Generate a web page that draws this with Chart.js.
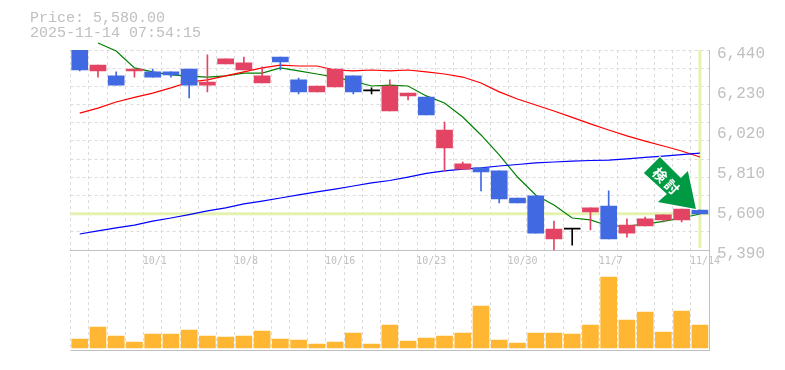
<!DOCTYPE html>
<html>
<head>
<meta charset="utf-8">
<script src="https://cdn.jsdelivr.net/npm/chart.js@4"></script>
<style>
  html, body { margin: 0; padding: 0; background: #fff; }
  canvas { display: block; }
</style>
</head>
<body>
<canvas id="chart" width="785" height="370"></canvas>
<script>
const LAST_PRICE = 5580
const HEADER = ['Price: 5,580.00', '2025-11-14 07:54:15']
const ARROW_TEXT = ['検', '討']

const dates = ['9/25','9/26','9/29','9/30','10/1','10/2','10/3','10/6','10/7','10/8',
  '10/9','10/10','10/14','10/15','10/16','10/17','10/20','10/21','10/22','10/23',
  '10/24','10/27','10/28','10/29','10/30','10/31','11/4','11/5','11/6','11/7',
  '11/10','11/11','11/12','11/13','11/14']
const dateTicks = ['10/1','10/8','10/16','10/23','10/30','11/7','11/14']
const priceTicks = [6440, 6230, 6020, 5810, 5600, 5390]

const opens = [6440,6330,6304,6330,6325,6325,6340,6256,6367,6335,
  6267,6403,6283,6220,6246,6304,6225,6120,6199,6193,
  5926,5815,5821,5805,5663,5674,5448,5500,5590,5621,
  5479,5516,5548,5548,5600]
const closes = [6335,6361,6256,6340,6298,6309,6256,6272,6393,6372,
  6304,6377,6220,6251,6340,6220,6225,6251,6214,6099,
  6020,5842,5800,5658,5637,5479,5500,5500,5611,5448,
  5521,5553,5574,5605,5580]
const highs = [6440,6361,6325,6340,6340,6325,6340,6414,6393,6403,
  6351,6403,6293,6251,6340,6304,6241,6283,6214,6193,
  6062,5852,5821,5805,5663,5674,5542,5500,5611,5700,
  5553,5563,5574,5605,5600]
const lows = [6330,6298,6256,6298,6298,6298,6188,6220,6367,6335,
  6267,6335,6209,6220,6246,6209,6209,6120,6178,6099,
  5805,5815,5700,5637,5637,5479,5390,5416,5495,5448,
  5458,5516,5537,5537,5580]

const maShort = [null,6477,6435,6346,6325,6309,6303,6298,6304,6319,
  6319,6346,6330,6314,6298,6277,6251,6256,6251,6199,
  6162,6088,5994,5889,5773,5679,5626,5558,5548,5516,
  5516,5526,5540,5558,5579]
const maMid = [6109,6135,6167,6191,6214,6241,6272,6283,6304,6325,
  6346,6361,6356,6356,6335,6330,6335,6330,6335,6325,
  6314,6298,6267,6220,6183,6151,6120,6086,6052,6020,
  5989,5962,5936,5910,5878]
const maLong = [5474,5490,5506,5521,5542,5558,5576,5595,5611,5632,
  5647,5663,5679,5695,5710,5726,5742,5755,5773,5792,
  5805,5815,5821,5831,5839,5847,5852,5857,5860,5862,
  5868,5876,5883,5891,5899]

const volumes = [9,21,12,6,14,14,18,12,11,12,
  17,9,8,4,6,15,4,23,7,10,
  12,15,42,8,5,15,15,14,23,71,
  28,36,16,37,23]

const GRAY = '#c0c0c0'
const GRID = '#dcdcdc'
const UP = '#e34463'
const DOWN = '#4169e1'
const FLAT = '#000000'

// price panel is the upper 200px of a 300px plot, volume sits under it
const PRICE_MAX = 6440
const PRICE_MIN = 5390
const PRICE_BOTTOM = PRICE_MIN - (PRICE_MAX - PRICE_MIN) / 2
const GRID_LINES = 11

const candleColors = opens.map((o, i) => closes[i] > o ? UP : closes[i] < o ? DOWN : FLAT)

// last price lines go under everything else
const priceLines = {
  id: 'priceLines',
  beforeDatasetsDraw(chart) {
    const { ctx, chartArea, scales } = chart
    const y = scales.y.getPixelForValue(LAST_PRICE)
    const x = scales.x.getPixelForValue(dates.length - 1)
    ctx.save()
    ctx.fillStyle = '#e4f2b0'
    ctx.fillRect(chartArea.left, y - 1.5, chartArea.right - chartArea.left, 3)
    ctx.fillRect(x - 1.5, chartArea.top, 3, scales.y.getPixelForValue(PRICE_MIN) - 2 - chartArea.top)
    ctx.restore()
  }
}

const arrowAndHeader = {
  id: 'arrowAndHeader',
  afterDraw(chart) {
    const { ctx, scales } = chart
    ctx.save()

    ctx.fillStyle = GRAY
    ctx.font = '15px "Liberation Mono"'
    ctx.textBaseline = 'middle'
    ctx.fillText(HEADER[0], 30, 18)
    ctx.fillText(HEADER[1], 30, 33)

    // arrow is hung off the last candle
    const tipX = scales.x.getPixelForValue(dates.length - 1) - 4
    const tipY = scales.y.getPixelForValue(opens[opens.length - 1]) - 1
    const shape = [[-36,-52],[-52,-36],[-29,-15],[-38,-7],[0,0],[-8,-38],[-15,-31]]
    ctx.beginPath()
    shape.forEach((p, i) => i ? ctx.lineTo(tipX + p[0], tipY + p[1]) : ctx.moveTo(tipX + p[0], tipY + p[1]))
    ctx.closePath()
    ctx.lineWidth = 2
    ctx.strokeStyle = '#fff'
    ctx.stroke()
    ctx.fillStyle = '#009944'
    ctx.fill()

    ctx.fillStyle = '#fff'
    ctx.font = 'bold 14px "Noto Sans CJK JP"'
    ctx.textAlign = 'center'
    ctx.textBaseline = 'middle'
    ctx.translate(tipX - 30, tipY - 28)
    ctx.rotate(Math.PI / 4)
    ctx.fillText(ARROW_TEXT[0], -8.5, 0)
    ctx.fillText(ARROW_TEXT[1], 8.5, 0)
    ctx.restore()
  }
}

new Chart(document.getElementById('chart'), {
  data: {
    labels: dates,
    datasets: [
      {
        type: 'bar', yAxisID: 'y', order: 1, grouped: false, barThickness: 16, minBarLength: 1,
        data: opens.map((o, i) => [o, closes[i]]),
        backgroundColor: candleColors
      },
      {
        type: 'bar', yAxisID: 'y', order: 2, grouped: false, barThickness: 1,
        data: lows.map((l, i) => [l, highs[i]]),
        backgroundColor: candleColors
      },
      { type: 'line', yAxisID: 'y', order: 3, data: maLong, borderColor: '#0000ff', borderWidth: 1.2, pointRadius: 0, tension: 0, clip: false },
      { type: 'line', yAxisID: 'y', order: 4, data: maMid, borderColor: '#ff0000', borderWidth: 1.2, pointRadius: 0, tension: 0, clip: false },
      { type: 'line', yAxisID: 'y', order: 5, data: maShort, borderColor: '#008000', borderWidth: 1.2, pointRadius: 0, tension: 0, clip: false },
      {
        type: 'bar', yAxisID: 'vol', order: 6, grouped: false, barThickness: 16,
        data: volumes, backgroundColor: '#ffb733'
      }
    ]
  },
  options: {
    responsive: false,
    animation: false,
    layout: { padding: { left: 70.6, top: 50, bottom: 20, right: 0 } },
    plugins: { legend: { display: false }, tooltip: { enabled: false } },
    scales: {
      x: {
        type: 'category',
        position: { y: PRICE_MIN },
        offset: true,
        grid: { color: GRID, offset: true, drawTicks: false },
        border: { display: true, color: GRAY, dash: [3, 3] },
        ticks: {
          autoSkip: false,
          maxRotation: 0,
          align: 'start',
          labelOffset: -10,
          padding: 5,
          color: GRAY,
          font: { family: 'DejaVu Sans Mono', size: 10 },
          callback(value) {
            const label = this.getLabelForValue(value)
            return dateTicks.includes(label) ? label : ''
          }
        }
      },
      y: {
        position: 'right',
        min: PRICE_BOTTOM,
        max: PRICE_MAX,
        afterBuildTicks: (scale) => { scale.ticks = priceTicks.map(value => ({ value })) },
        afterFit: (scale) => { scale.width = 76 },
        grid: { display: false, drawTicks: false },
        border: { display: true, color: GRAY },
        ticks: {
          padding: 8,
          labelOffset: 4,
          color: GRAY,
          font: { family: 'Liberation Mono', size: 16 },
          callback: (value) => value.toLocaleString('en-US')
        }
      },
      // dotted horizontal grid, not lined up with the price labels
      yGrid: {
        position: 'right',
        min: PRICE_BOTTOM,
        max: PRICE_MAX,
        afterBuildTicks: (scale) => {
          const step = (PRICE_MAX - PRICE_MIN) / GRID_LINES
          const list = []
          for (let k = 0; k <= GRID_LINES; k++) list.push({ value: PRICE_MAX - k * step })
          list.push({ value: PRICE_BOTTOM })
          scale.ticks = list
        },
        afterFit: (scale) => { scale.width = 0 },
        grid: {
          drawTicks: false,
          color: (ctx) => ctx.tick && ctx.tick.value === PRICE_BOTTOM ? GRAY : GRID
        },
        border: {
          display: false,
          dash: (ctx) => ctx.tick && ctx.tick.value === PRICE_BOTTOM ? [] : [3, 3]
        },
        ticks: { display: false }
      },
      vol: {
        display: false,
        min: -2,
        max: 298
      }
    }
  },
  plugins: [priceLines, arrowAndHeader]
})
</script>
</body>
</html>
